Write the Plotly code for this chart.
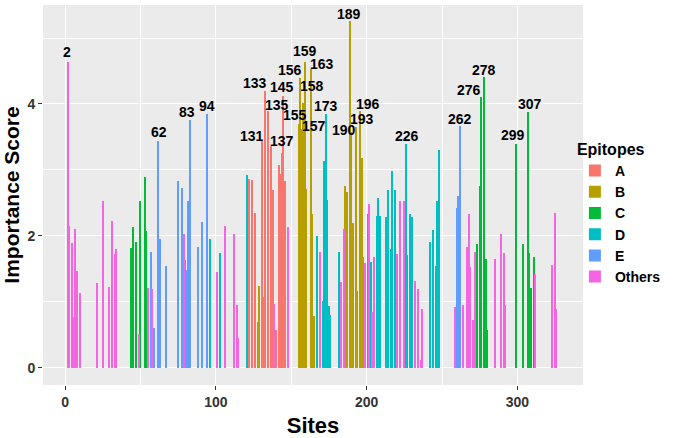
import plotly.graph_objects as go

# ---- data ----
others_sites = [2, 3, 5, 6, 7, 8, 10, 21, 25, 29, 31, 33, 34, 49, 55, 58, 79, 101, 106, 112, 114, 115,
                139, 148, 169, 183, 185, 199, 202, 204, 205, 220, 222, 225, 232, 234, 236, 237,
                259, 264, 267, 268, 269, 271, 272, 285, 289, 291, 292, 312, 323, 325, 326]
others_vals = [4.63, 2.15, 1.90, 0.78, 2.10, 1.47, 1.14, 1.29, 2.53, 1.23, 2.22, 1.73, 1.81, 0.52, 1.21, 1.19, 2.03, 1.46, 2.15, 2.03, 0.95, 0.45,
               0.97, 2.13, 1.76, 1.31, 2.10, 1.59, 2.49, 0.85, 1.68, 1.73, 2.53, 2.53, 1.32, 1.20, 0.12, 0.90,
               0.92, 0.95, 1.84, 2.33, 1.53, 0.73, 1.76, 1.65, 2.03, 1.74, 0.95, 1.43, 1.56, 2.35, 0.90]

a_sites = [122, 124, 126, 131, 132, 133, 135, 137, 138, 140, 142, 143, 144, 145, 146]
a_vals = [2.86, 2.85, 2.35, 3.44, 1.07, 4.19, 3.90, 3.37, 2.70, 0.58, 3.08, 2.94, 3.25, 4.12, 2.83]

b_sites = [128, 129, 155, 156, 157, 158, 159, 160, 163, 164, 165, 186, 187, 189, 190, 191, 193, 194, 196, 197, 198]
b_vals = [0.69, 1.24, 3.70, 4.40, 3.62, 4.01, 4.64, 2.71, 4.53, 2.33, 0.79, 2.75, 2.66, 5.26, 3.58, 2.19, 3.65, 1.17, 3.90, 3.18, 1.68]

c_sites = [44, 45, 47, 50, 53, 54, 273, 275, 276, 278, 279, 280, 299, 304, 307, 308, 309, 311]
c_vals = [1.82, 2.14, 1.91, 2.53, 2.89, 2.08, 1.88, 2.75, 4.11, 4.41, 1.65, 0.58, 3.39, 1.88, 3.88, 1.74, 1.21, 1.68]

d_sites = [96, 103, 121, 167, 171, 172, 173, 174, 175, 176, 182, 201, 203, 207, 208, 209, 213, 214, 216, 217, 219,
           226, 227, 229, 230, 242, 244, 246, 247, 248]
d_vals = [1.95, 1.74, 2.92, 2.00, 1.02, 3.14, 3.85, 2.55, 0.94, 0.80, 1.75, 2.33, 1.60, 2.30, 2.57, 2.30, 2.29, 2.70, 1.80, 2.99, 2.70,
          3.39, 1.71, 2.33, 2.29, 1.91, 2.09, 1.55, 2.53, 3.31]

e_sites = [57, 59, 62, 63, 67, 75, 78, 80, 81, 82, 83, 88, 91, 94, 260, 261, 262]
e_vals = [1.76, 0.60, 3.44, 1.96, 1.55, 2.83, 2.72, 1.64, 1.48, 2.53, 3.76, 1.83, 2.21, 3.85, 2.42, 2.60, 3.67]

labelled_sites = [2, 62, 83, 94, 131, 133, 135, 137, 145, 155, 156, 157, 158, 159, 163, 173,
                  189, 190, 193, 196, 226, 262, 276, 278, 299, 307]

# ---- styles ----
groups = [
    ("A", a_sites, a_vals, "#F8766D"),
    ("B", b_sites, b_vals, "#B79F00"),
    ("C", c_sites, c_vals, "#00BA38"),
    ("D", d_sites, d_vals, "#00BFC4"),
    ("E", e_sites, e_vals, "#619CFF"),
    ("Others", others_sites, others_vals, "#F564E3"),
]
# pixel offsets of the text labels from the top of their bars
label_offsets = {
    2: (-1, 10), 62: (0, 9), 83: (-3, 8), 94: (0, 8), 131: (-11, 5), 133: (-11, 8),
    135: (8, 6), 137: (10, 5), 145: (-2, 9), 155: (-4, 9), 156: (-10, 8), 157: (12, 3),
    158: (9, 17), 159: (0, 11), 163: (11, 5), 173: (0, 8), 189: (-1, 7), 190: (-8, 2),
    193: (6, 8), 196: (7, 7), 226: (1, 8), 262: (0, 7), 276: (-12, 7), 278: (0, 7),
    299: (-3, 9), 307: (2, 8),
}

FONT = "Liberation Sans, Arial, sans-serif"

fig = go.Figure()
all_vals = {}
for name, s, v, col in groups:
    for si, vi in zip(s, v):
        all_vals[si] = vi
    fig.add_trace(go.Bar(x=s, y=v, name=name, width=0.9, marker=dict(color=col, line=dict(width=0)),
                         legendgroup=name))

for site in labelled_sites:
    dx, dy = label_offsets[site]
    fig.add_annotation(x=site, y=all_vals[site], text=str(site), showarrow=False,
                       xref="x", yref="y", xanchor="center", yanchor="middle",
                       xshift=dx, yshift=dy,
                       font=dict(family=FONT, size=14, color="black", weight="bold"))

fig.update_layout(
    width=675, height=438,
    margin=dict(l=43, r=92, t=5, b=53, autoexpand=False),
    plot_bgcolor="#EBEBEB", paper_bgcolor="white",
    barmode="overlay", bargap=0,
    font=dict(family=FONT, color="#333333"),
    legend=dict(
        title=dict(text="Epitopes", font=dict(family=FONT, size=16, color="black", weight="bold")),
        font=dict(family=FONT, size=14, color="black", weight="bold"),
        x=0.985, xanchor="left", y=0.66, yanchor="top", itemwidth=30,
        bgcolor="rgba(0,0,0,0)", tracegroupgap=0,
    ),
    xaxis=dict(
        range=[-14.6, 343.5], tickvals=[0, 100, 200, 300], ticktext=["0", "100", "200", "300"],
        showgrid=True, gridcolor="white", gridwidth=1.3, zeroline=False, automargin=False,
        minor=dict(tickvals=[50, 150, 250], showgrid=True, gridcolor="white", gridwidth=0.6),
        ticks="outside", ticklen=4, tickcolor="#333333", tickwidth=1,
        tickfont=dict(family=FONT, size=14, color="#333333", weight="bold"),
        title=dict(text="Sites", font=dict(family=FONT, size=22, color="black", weight="bold")),
    ),
    yaxis=dict(
        range=[-0.258, 5.5], tickvals=[0, 2, 4], ticktext=["0", "2", "4"],
        showgrid=True, gridcolor="white", gridwidth=1.3, zeroline=False, automargin=False,
        minor=dict(tickvals=[1, 3, 5], showgrid=True, gridcolor="white", gridwidth=0.6),
        ticks="outside", ticklen=4, tickcolor="#333333", tickwidth=1,
        tickfont=dict(family=FONT, size=14, color="#333333", weight="bold"),
        title=dict(text="Importance Score", font=dict(family=FONT, size=21, color="black", weight="bold")),
    ),
)

fig.write_html("out.html", config={"displayModeBar": False},
               post_script="document.body.style.margin='0';document.body.style.overflow='hidden';")
